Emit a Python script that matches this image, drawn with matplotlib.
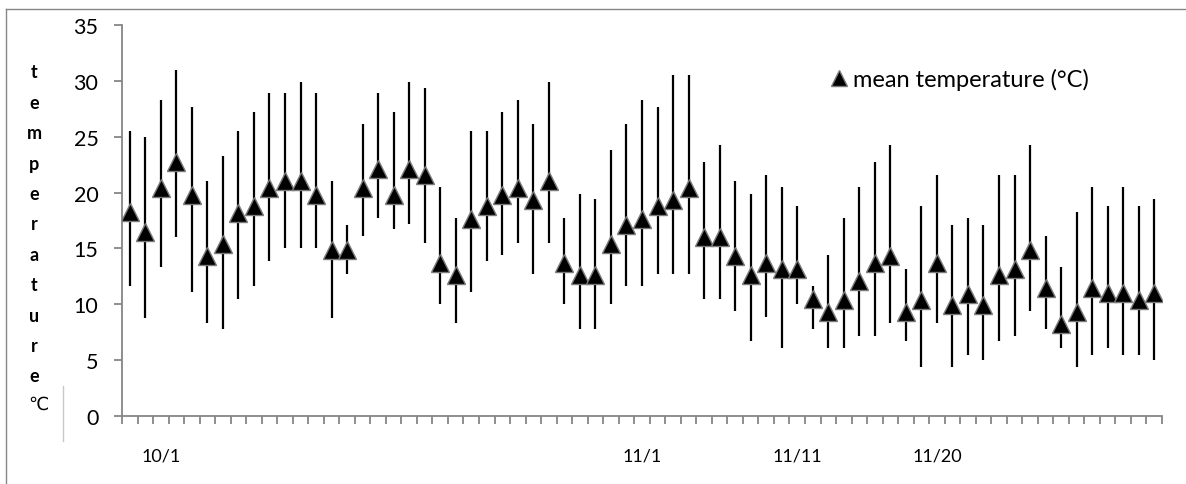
import numpy as np
import matplotlib
matplotlib.use("Agg")
import matplotlib.pyplot as plt
from matplotlib.lines import Line2D

plt.rcParams['font.family'] = ['Lato', 'DejaVu Sans']

# daily mean / max / min temperature, 9/29 .. 12/4
mean_t = [18.3, 16.5, 20.4, 22.7, 19.8, 14.3, 15.4, 18.2, 18.8, 20.4,
          21.0, 21.0, 19.8, 14.9, 14.9, 20.4, 22.1, 19.8, 22.1, 21.6,
          13.7, 12.6, 17.6, 18.8, 19.8, 20.4, 19.3, 21.0, 13.7, 12.6,
          12.6, 15.4, 17.1, 17.6, 18.8, 19.3, 20.4, 16.0, 16.0, 14.3,
          12.6, 13.7, 13.2, 13.2, 10.5, 9.3, 10.4, 12.1, 13.7, 14.3,
          9.3, 10.4, 13.7, 9.9, 10.9, 9.9, 12.6, 13.2, 14.9, 11.5,
          8.2, 9.3, 11.5, 11.0, 11.0, 10.4, 11.0]
max_t = [25.5, 25.0, 28.3, 31.0, 27.7, 21.0, 23.3, 25.5, 27.2, 28.9,
         28.9, 29.9, 28.9, 21.0, 17.1, 26.1, 28.9, 27.2, 29.9, 29.4,
         20.5, 17.7, 25.5, 25.5, 27.2, 28.3, 26.1, 29.9, 17.7, 19.9,
         19.4, 23.8, 26.1, 28.3, 27.7, 30.5, 30.5, 22.7, 24.3, 21.0,
         19.9, 21.6, 20.5, 18.8, 11.6, 14.4, 17.7, 20.5, 22.7, 24.3,
         13.2, 18.8, 21.6, 17.1, 17.7, 17.1, 21.6, 21.6, 24.3, 16.1,
         13.3, 18.3, 20.5, 18.8, 20.5, 18.8, 19.4]
min_t = [11.6, 8.8, 13.3, 16.0, 11.1, 8.3, 7.8, 10.5, 11.6, 13.9,
         15.0, 15.0, 15.0, 8.8, 12.7, 16.1, 17.7, 16.7, 17.2, 15.5,
         10.0, 8.3, 11.1, 13.9, 14.4, 15.5, 12.7, 15.5, 10.0, 7.8,
         7.8, 10.0, 11.6, 11.6, 12.7, 12.7, 12.7, 10.5, 10.5, 9.4,
         6.7, 8.9, 6.1, 10.0, 7.8, 6.1, 6.1, 7.2, 7.2, 8.3,
         6.7, 4.4, 8.3, 4.4, 5.5, 5.0, 6.7, 7.2, 9.4, 7.8,
         6.1, 4.4, 5.5, 6.1, 5.5, 5.5, 5.0]
date_pos = [2, 33, 43, 52]
date_labels = ['10/1', '11/1', '11/11', '11/20']

mean_t = np.array(mean_t)
max_t = np.array(max_t)
min_t = np.array(min_t)
n = len(mean_t)
x = np.arange(n)
grey = '#868686'

W, H = 1186, 485
fig = plt.figure(figsize=(W / 100, H / 100), dpi=100)
ax = fig.add_axes([122 / W, 1 - 417 / H, 1040 / W, 391 / H])

ax.errorbar(x, mean_t, yerr=[mean_t - min_t, max_t - mean_t], fmt='none',
            ecolor='black', elinewidth=1.6, capsize=0, zorder=2)
ax.plot(x, mean_t, ls='none', marker='^', ms=12.5, mfc='black',
        mec='#7a7a7a', mew=1, zorder=3)

ax.set_xlim(-0.5, n - 0.5)
ax.set_ylim(0, 35)
for s in ['top', 'right']:
    ax.spines[s].set_visible(False)
for s in ['left', 'bottom']:
    ax.spines[s].set_color(grey)
    ax.spines[s].set_linewidth(1.3)

ax.set_yticks(np.arange(0, 36, 5))
ax.tick_params(axis='y', length=6, width=1.3, color=grey, pad=11,
               labelsize=15.5, labelcolor='black')
ax.set_xticks(np.arange(-0.5, n, 1), minor=True)
ax.set_xticks(date_pos)
ax.set_xticklabels(date_labels)
ax.tick_params(axis='x', which='minor', length=6, width=1.3, color=grey)
ax.tick_params(axis='x', which='major', length=0, pad=23, labelsize=13)

# legend
h = Line2D([], [], ls='none', marker='^', ms=11, mfc='black', mec='#7a7a7a', mew=1)
fig.legend([h], ['mean temperature (°C)'], loc='center left',
           bbox_to_anchor=(828 / W, 1 - 80 / H), frameon=False, fontsize=17,
           handlelength=0.9, handletextpad=0.15, borderaxespad=0, borderpad=0)

# vertical stacked y label
for k, ch in enumerate('temperature'):
    fig.text(34 / W, 1 - (73 + k * 30.4) / H, ch, ha='center', va='center',
             fontsize=13, fontweight='bold')
fig.text(38 / W, 1 - 405 / H, '℃', ha='center', va='center', fontsize=13,
         family=['DejaVu Sans'])

# chart frame pieces
fig.add_artist(Line2D([6 / W, 6 / W], [0, 1 - 10 / H], color=grey, lw=1))
fig.add_artist(Line2D([6 / W, 1], [1 - 10 / H, 1 - 10 / H], color=grey, lw=1))
fig.add_artist(Line2D([63 / W, 63 / W], [1 - 387 / H, 1 - 442 / H],
                      color='#c8c8c8', lw=1))

fig.savefig('out.png', dpi=100)
